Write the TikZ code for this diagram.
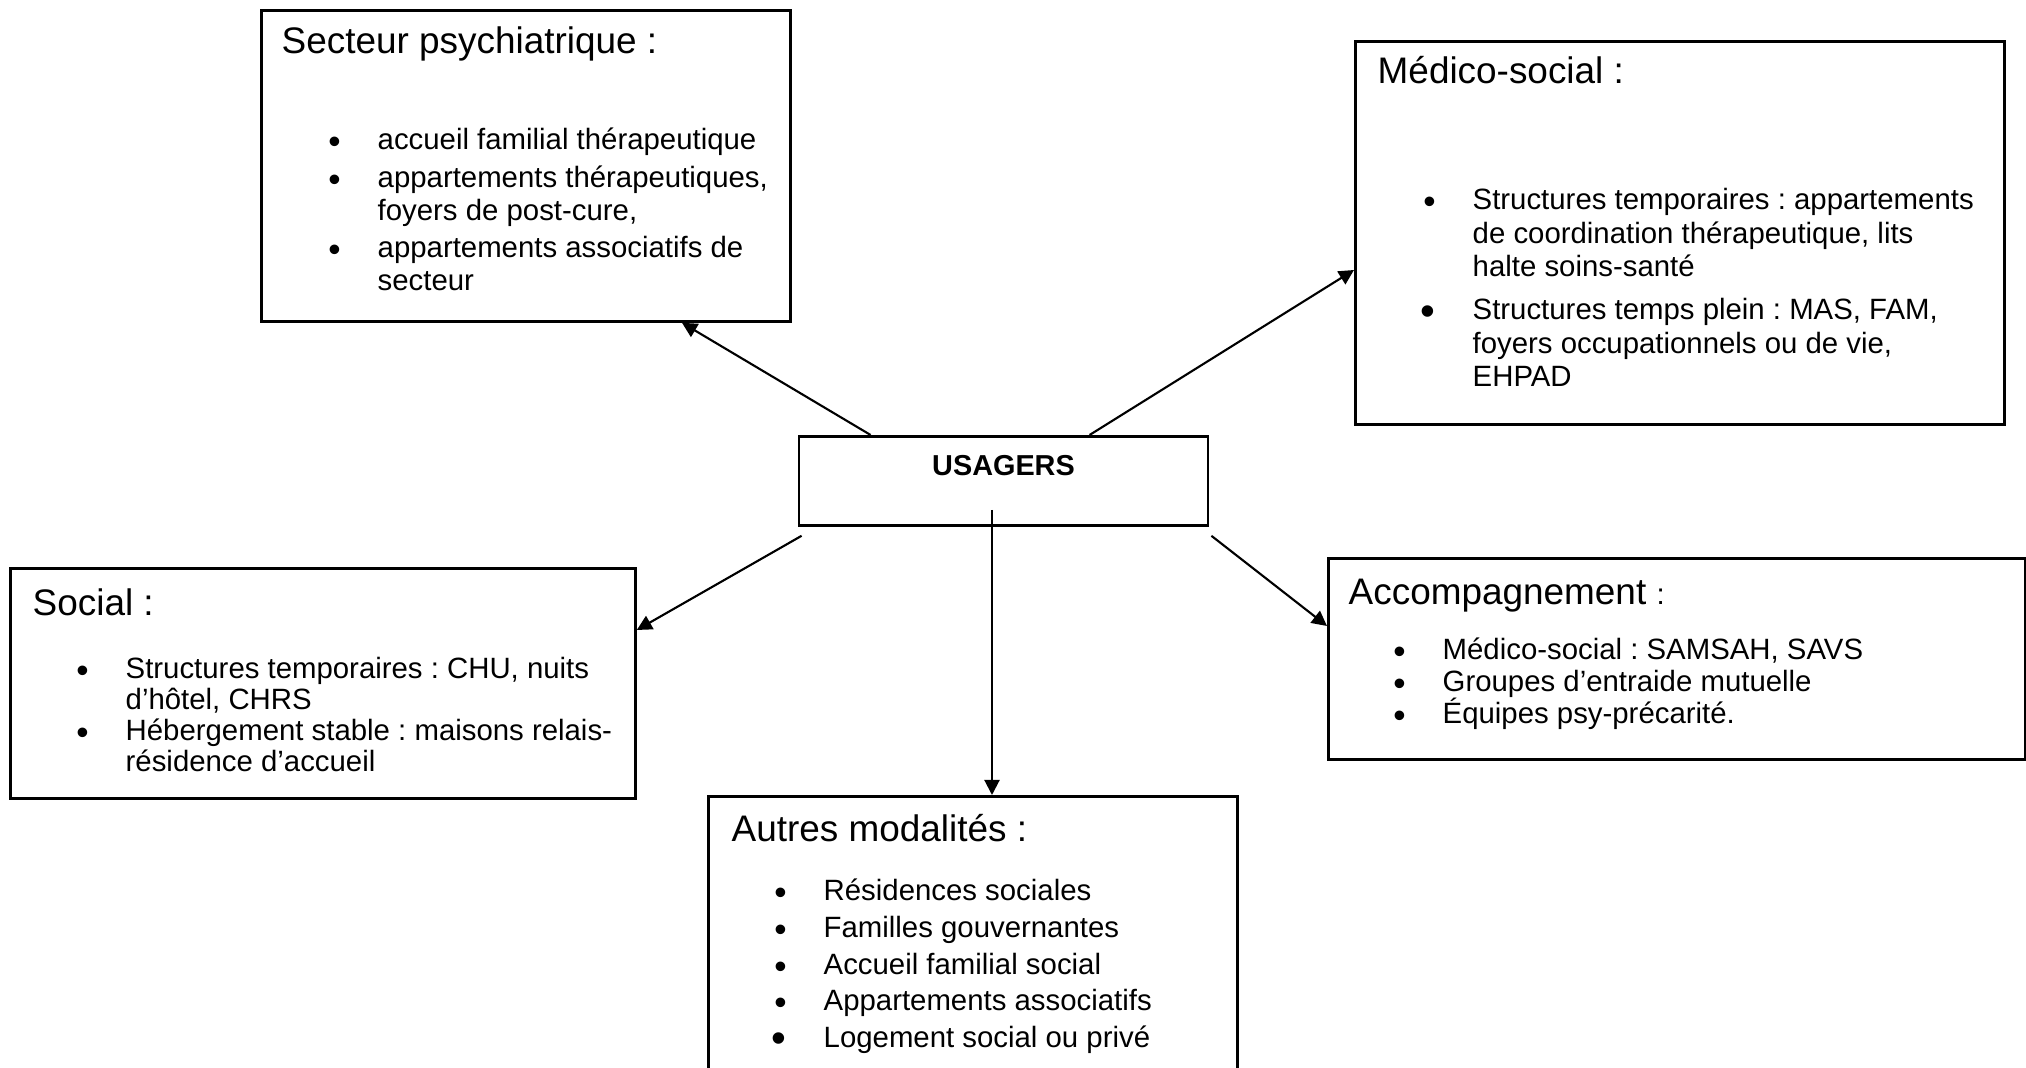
\documentclass[tikz,border=0pt]{standalone}
\usepackage{fontspec}
\setmainfont{Liberation Sans}
\usepackage{enumitem}
\usepackage{tikz}
\usetikzlibrary{arrows.meta}
\frenchspacing
\newdimen\px \px=0.01cm
\newcommand{\titrefont}{\fontsize{10.5pt}{12pt}\selectfont}
\newcommand{\corps}[1]{\fontsize{8.35pt}{#1}\selectfont}
\newcommand{\grospoint}{\raisebox{-1.6pt}{\fontsize{12pt}{12pt}\selectfont\textbullet}}
\newlist{puces}{itemize}{1}
\setlist[puces]{label={\raisebox{-1.1pt}{\fontsize{10pt}{10pt}\selectfont\textbullet}},
  leftmargin=60\px, labelsep=37\px,
  topsep=0pt, partopsep=0pt, parsep=0pt, itemsep=0pt}
\tikzset{
  cadre/.style ={rectangle, draw, line width=0.8pt, inner sep=0pt, anchor=north west},
  titre/.style ={anchor=base west, inner sep=0pt, font=\titrefont},
  liste/.style ={anchor=base west, inner sep=0pt},
  fleche/.style={-{Triangle[length=1.5mm,width=1.5mm]}, line width=0.6pt},
}
\begin{document}
\begin{tikzpicture}[x=0.01cm, y=0.01cm]
\useasboundingbox (0,0) rectangle (2026,-1068);

% the centre
\node[cadre, anchor=north, minimum width=409\px, text height=39\px, text depth=50\px,
      font=\bfseries\fontsize{8.2pt}{9pt}\selectfont] (us) at (1003.5,-435) {USAGERS};

% the five families of places
\node[cadre, minimum width=529\px, minimum height=311\px] (psy) at (260,-9) {};
\node[cadre, minimum width=649\px, minimum height=383\px] (med) at (1354,-40) {};
\node[cadre, minimum width=625\px, minimum height=230\px] (soc) at (9,-567) {};
\node[cadre, minimum width=697\px, minimum height=201\px] (acc) at (1327,-557) {};
\node[cadre, minimum width=529\px, minimum height=280\px] (aut) at (707,-795) {};

\node[titre] (psyT) at ([shift={(21\px,-45\px)}]psy.north west) {Secteur psychiatrique :};
\node[liste] (psyL) at ([shift={(57\px,-141\px)}]psy.north west) {%
  \begin{minipage}[t]{600\px}\corps{9.4pt}
  \begin{puces}[itemsep=1.2pt]
  \item accueil familial thérapeutique
  \item appartements thérapeutiques,\newline foyers de post-cure,
  \item appartements associatifs de\newline secteur
  \end{puces}
  \end{minipage}};

\node[titre] (medT) at ([shift={(23\px,-44\px)}]med.north west) {Médico-social :};
\node[liste] (medL) at ([shift={(58\px,-170\px)}]med.north west) {%
  \begin{minipage}[t]{600\px}\corps{9.5pt}
  \begin{puces}[itemsep=2.7pt]
  \item Structures temporaires : appartements\newline de coordination thérapeutique, lits\newline halte soins-santé
  \item[\grospoint] Structures temps plein : MAS, FAM,\newline foyers occupationnels ou de vie,\newline EHPAD
  \end{puces}
  \end{minipage}};

\node[titre] (socT) at ([shift={(23\px,-49\px)}]soc.north west) {Social :};
\node[liste] (socL) at ([shift={(56\px,-112\px)}]soc.north west) {%
  \begin{minipage}[t]{600\px}\corps{8.8pt}
  \begin{puces}
  \item Structures temporaires : CHU, nuits\newline d’hôtel, CHRS
  \item Hébergement stable : maisons relais-\newline résidence d’accueil
  \end{puces}
  \end{minipage}};

\node[titre] (accT) at ([shift={(21\px,-48\px)}]acc.north west) {Accompagnement {\corps{9pt}:}};
\node[liste] (accL) at ([shift={(55\px,-103\px)}]acc.north west) {%
  \begin{minipage}[t]{600\px}\corps{9.1pt}
  \begin{puces}
  \item Médico-social : SAMSAH, SAVS
  \item Groupes d’entraide mutuelle
  \item Équipes psy-précarité.
  \end{puces}
  \end{minipage}};

\node[titre] (autT) at ([shift={(24\px,-47\px)}]aut.north west) {Autres modalités :};
\node[liste] (autL) at ([shift={(56\px,-106\px)}]aut.north west) {%
  \begin{minipage}[t]{600\px}\corps{10.4pt}
  \begin{puces}
  \item Résidences sociales
  \item Familles gouvernantes
  \item Accueil familial social
  \item Appartements associatifs
  \item[\grospoint] Logement social ou privé
  \end{puces}
  \end{minipage}};

% connectors out of USAGERS
\draw[fleche] ([xshift=73\px]us.north west) -- ([xshift=422\px]psy.south west);
\draw[fleche] ([xshift=292\px]us.north west) -- ([yshift=-230\px]med.north west);
\draw[fleche] ([shift={(4\px,-9\px)}]us.south west) -- ([yshift=-63\px]soc.north east);
\draw[fleche] ([shift={(2\px,-9\px)}]us.south east) -- ([yshift=-69\px]acc.north west);
\draw[fleche] ([shift={(-11.5\px,17\px)}]us.south) -- ([xshift=285\px]aut.north west);
\end{tikzpicture}
\end{document}
